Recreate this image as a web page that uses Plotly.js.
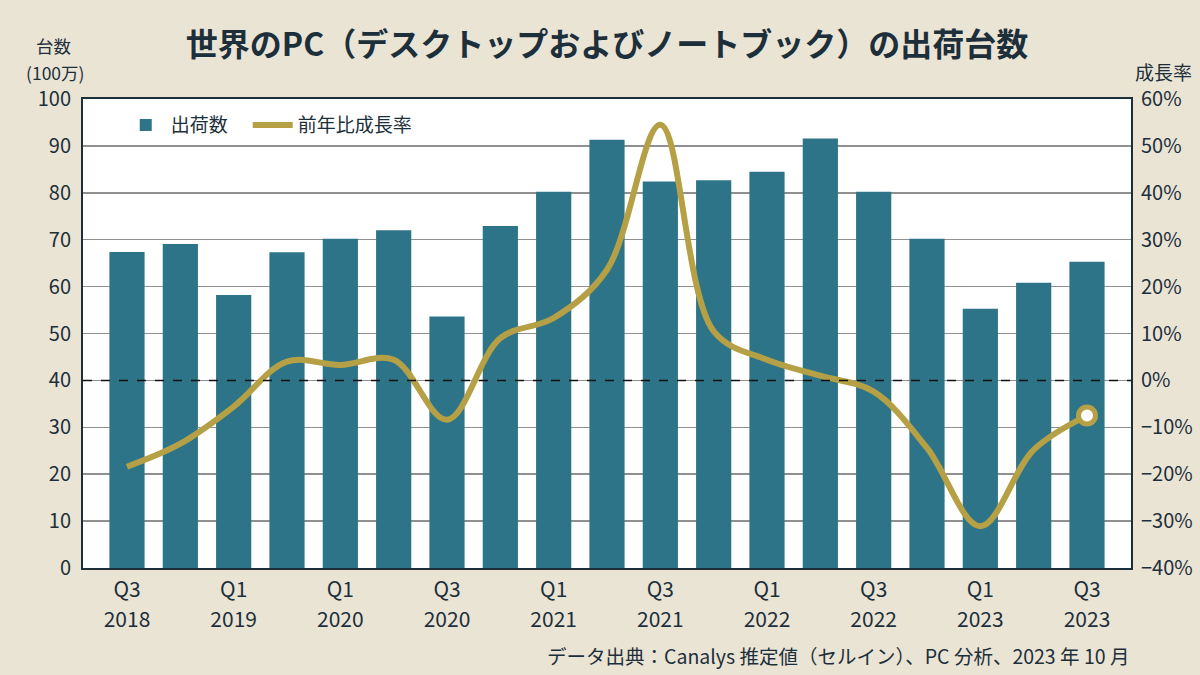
<!DOCTYPE html>
<html>
<head>
<meta charset="utf-8">
<script src="https://cdn.plot.ly/plotly-3.0.1.min.js"></script>
<style>
  html, body { margin: 0; padding: 0; background: #EAE4D5; }
  #chart { width: 1200px; height: 675px; }
</style>
</head>
<body>
<div id="chart"></div>
<script>
// ---- data ----
const quarterIndex = [0,1,2,3,4,5,6,7,8,9,10,11,12,13,14,15,16,17,18];
const shipments = [67.4, 69.1, 58.2, 67.3, 70.2, 72.0, 53.6, 72.9, 80.2, 91.3, 82.4, 82.7, 84.5, 91.6, 80.2, 70.2, 55.3, 60.8, 65.3];
const growthPct = [-18.4, -13.5, -5.6, 4.0, 3.3, 4.4, -8.4, 9.0, 13.3, 23.6, 54.5, 10.5, 4.4, 1.0, -2.4, -14.4, -31.1, -14.8, -7.5];
const tickPositions = [0, 2, 4, 6, 8, 10, 12, 14, 16, 18];
const tickQuarters = ["Q3", "Q1", "Q1", "Q3", "Q1", "Q3", "Q1", "Q3", "Q1", "Q3"];
const tickYears = ["2018", "2019", "2020", "2020", "2021", "2021", "2022", "2022", "2023", "2023"];
const seriesNames = ["出荷数", "前年比成長率"];
const titleText = "世界のPC（デスクトップおよびノートブック）の出荷台数";
const leftAxisTitle = ["台数", "(100万)"];
const rightAxisTitle = "成長率";
const sourceText = "データ出典：Canalys 推定値（セルイン）、PC 分析、2023 年 10 月";

const FONT = "'Noto Sans CJK JP', 'Noto Sans', sans-serif";
const DARK = "#1d2f3a";
const TEAL = "#2E7489";
const GOLD = "#B6A045";

const traces = [
  {
    type: "bar",
    x: quarterIndex,
    y: shipments,
    name: seriesNames[0],
    marker: { color: TEAL },
    legendwidth: 72,
    xaxis: "x",
    yaxis: "y",
    hoverinfo: "skip"
  },
  {
    type: "scatter",
    mode: "lines",
    x: quarterIndex,
    y: growthPct,
    name: seriesNames[1],
    line: { color: GOLD, width: 6, shape: "spline", smoothing: 1 },
    xaxis: "x",
    yaxis: "y2",
    hoverinfo: "skip"
  },
  {
    type: "scatter",
    mode: "markers",
    x: quarterIndex.slice(-1),
    y: growthPct.slice(-1),
    showlegend: false,
    marker: { size: 17, color: "#ffffff", line: { color: GOLD, width: 5 } },
    xaxis: "x2",
    yaxis: "y2",
    hoverinfo: "skip"
  }
];

const xRange = [-0.825, 18.825];

const layout = {
  width: 1200,
  height: 675,
  paper_bgcolor: "#EAE4D5",
  plot_bgcolor: "#ffffff",
  margin: { l: 83, r: 69, t: 99, b: 107 },
  font: { family: FONT, color: DARK, size: 18 },
  bargap: 0.34,
  showlegend: true,
  legend: {
    orientation: "h",
    x: 0.036, xanchor: "left",
    y: 0.985, yanchor: "top",
    bgcolor: "#ffffff",
    font: { size: 19, color: DARK, family: FONT },
    itemwidth: 40,
    tracegroupgap: 0
  },
  title: {
    text: titleText,
    font: { family: FONT, size: 32, color: DARK, weight: 700 },
    x: 0.5, xanchor: "center",
    y: 1 - 45 / 675, yanchor: "middle",
    xref: "paper"
  },
  xaxis: {
    range: xRange,
    tickmode: "array",
    tickvals: tickPositions,
    ticktext: tickQuarters,
    showgrid: false,
    zeroline: false,
    showline: true,
    linecolor: DARK,
    linewidth: 2,
    mirror: true,
    ticks: "",
    ticklabelstandoff: 2,
    tickfont: { size: 21, color: DARK },
    fixedrange: true
  },
  xaxis2: {
    range: xRange,
    overlaying: "x",
    side: "bottom",
    anchor: "y2",
    tickmode: "array",
    tickvals: tickPositions,
    ticktext: tickYears,
    showgrid: false,
    zeroline: false,
    showline: false,
    ticks: "",
    ticklabelstandoff: 37,
    tickfont: { size: 21, color: DARK },
    fixedrange: true
  },
  yaxis: {
    range: [0, 100],
    dtick: 10,
    tick0: 0,
    showgrid: true,
    gridcolor: "#8f8f8f",
    gridwidth: 1.5,
    zeroline: false,
    showline: true,
    linecolor: DARK,
    linewidth: 2,
    mirror: true,
    ticks: "",
    ticklabelstandoff: 6,
    tickfont: { size: 20, color: DARK },
    fixedrange: true
  },
  yaxis2: {
    range: [-40, 60],
    dtick: 10,
    tick0: 0,
    overlaying: "y",
    side: "right",
    showgrid: false,
    zeroline: false,
    showline: false,
    ticks: "",
    ticksuffix: "%",
    ticklabelstandoff: 9,
    tickfont: { size: 20, color: DARK },
    fixedrange: true
  },
  shapes: [
    {
      type: "line",
      xref: "paper", x0: 0, x1: 1,
      yref: "y2", y0: 0, y1: 0,
      line: { color: "#111111", width: 1.5, dash: "dash" },
      layer: "above"
    }
  ],
  annotations: [
    { text: leftAxisTitle[0], xref: "paper", yref: "paper", x: -0.0285, y: 1 + (99 - 46) / 469, xanchor: "center", yanchor: "middle", showarrow: false, font: { size: 17.5, color: DARK } },
    { text: leftAxisTitle[1], xref: "paper", yref: "paper", x: -0.027, y: 1 + (99 - 72) / 469, xanchor: "center", yanchor: "middle", showarrow: false, font: { size: 17.5, color: DARK } },
    { text: rightAxisTitle, xref: "paper", yref: "paper", x: 1 + 32 / 1048, y: 1 + (99 - 71) / 469, xanchor: "center", yanchor: "middle", showarrow: false, font: { size: 19, color: DARK } },
    { text: sourceText, xref: "paper", yref: "paper", x: 1, y: -(655 - 568) / 469, xanchor: "right", yanchor: "middle", showarrow: false, font: { size: 19.5, color: DARK } }
  ]
};

Plotly.newPlot("chart", traces, layout, { displayModeBar: false, staticPlot: true });
</script>
</body>
</html>
